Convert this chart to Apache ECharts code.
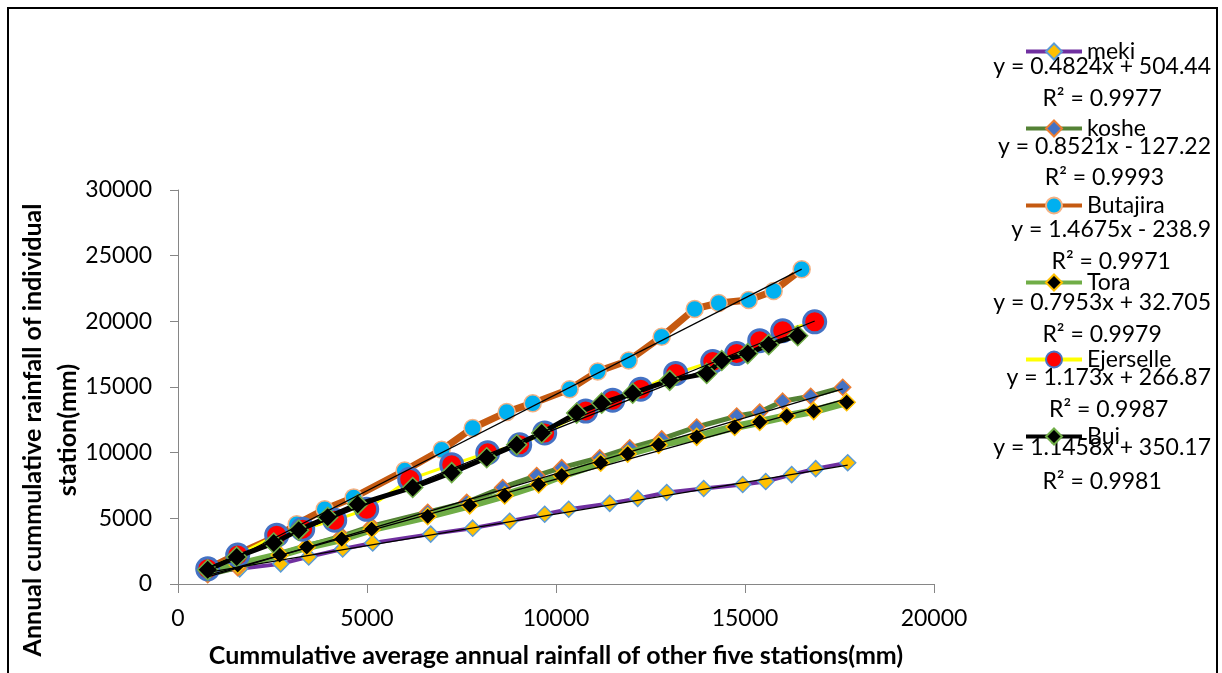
<!DOCTYPE html>
<html>
<head>
<meta charset="utf-8">
<script src="https://cdn.jsdelivr.net/npm/echarts@6/dist/echarts.min.js"></script>
<style>
  html, body { margin: 0; padding: 0; background: #fff; }
  #chart { width: 1222px; height: 673px; }
</style>
</head>
<body>
<div id="chart"></div>
<script>
// station names, in legend order
var stations = ['meki', 'koshe', 'Butajira', 'Tora', 'Ejerselle', 'Bui'];

// cumulative average of the other five stations (x) and of the station itself (y), mm
var mekiX = [786, 1632, 2717, 3458, 4357, 5151, 6685, 7796, 8775, 9701, 10336, 11421, 12161, 12929, 13907, 14939, 15548, 16235, 16870, 17717];
var mekiY = [900, 1156, 1533, 2062, 2666, 3119, 3799, 4252, 4781, 5310, 5687, 6140, 6518, 6971, 7273, 7575, 7802, 8331, 8784, 9237];

var kosheX = [786, 1579, 2690, 3405, 4331, 5124, 6606, 7638, 8590, 9489, 10151, 11156, 11950, 12796, 13722, 14780, 15389, 15997, 16738, 17585];
var kosheY = [700, 1250, 2288, 2893, 3650, 4405, 5460, 6216, 7349, 8255, 8860, 9615, 10370, 11050, 11956, 12787, 13089, 13920, 14297, 14977];

var butajiraX = [786, 1579, 2690, 3140, 3881, 4648, 5997, 6976, 7796, 8696, 9384, 10362, 11103, 11923, 12796, 13669, 14304, 15098, 15759, 16500];
var butajiraY = [1156, 2289, 3724, 4554, 5687, 6594, 8633, 10219, 11881, 13089, 13769, 14826, 16186, 17017, 18829, 20944, 21397, 21624, 22304, 23965];

var toraX = [786, 1579, 2690, 3405, 4331, 5124, 6606, 7717, 8643, 9542, 10151, 11183, 11897, 12717, 13722, 14727, 15389, 16103, 16817, 17690];
var toraY = [900, 1450, 2213, 2817, 3421, 4177, 5159, 5990, 6745, 7576, 8255, 9237, 9917, 10597, 11201, 11956, 12334, 12787, 13165, 13844];

var ejerselleX = [786, 1579, 2611, 3299, 4146, 4992, 6130, 7241, 8193, 9040, 9701, 10786, 11500, 12241, 13167, 14146, 14780, 15389, 15997, 16844];
var ejerselleY = [1156, 2205, 3716, 4177, 4856, 5687, 7976, 9086, 9992, 10597, 11503, 13164, 13995, 14826, 16035, 16941, 17545, 18527, 19282, 19962];

var buiX = [786, 1553, 2532, 3193, 3960, 4754, 6209, 7241, 8167, 8960, 9622, 10548, 11209, 12029, 13008, 13987, 14384, 15071, 15627, 16394];
var buiY = [1080, 2062, 3119, 4101, 5083, 6065, 7349, 8482, 9615, 10597, 11503, 13014, 13769, 14524, 15506, 16035, 17017, 17545, 18225, 18905];

// linear trendlines shown in the legend area
var slopes = [0.4824, 0.8521, 1.4675, 0.7953, 1.173, 1.1458];
var intercepts = [504.44, -127.22, -238.9, 32.705, 266.87, 350.17];
var rSquared = ['0.9977', '0.9993', '0.9971', '0.9979', '0.9987', '0.9981'];

var xs = [mekiX, kosheX, butajiraX, toraX, ejerselleX, buiX];
var ys = [mekiY, kosheY, butajiraY, toraY, ejerselleY, buiY];

// look of each station
var looks = [
    { line: '#7030A0', width: 4, symbol: 'diamond', size: 16, fill: '#FFC000', border: '#5B9BD5', bw: 1.5 },
    { line: '#548235', width: 5, symbol: 'diamond', size: 16, fill: '#4472C4', border: '#ED7D31', bw: 1.5 },
    { line: '#C55A11', width: 7, symbol: 'circle', size: 17, fill: '#00B0F0', border: '#F4B183', bw: 1.5 },
    { line: '#70AD47', width: 8, symbol: 'diamond', size: 17, fill: '#000000', border: '#FFC000', bw: 1.5 },
    { line: '#FFFF00', width: 3, symbol: 'circle', size: 22, fill: '#FF0000', border: '#4472C4', bw: 3 },
    { line: '#000000', width: 5, symbol: 'diamond', size: 20, fill: '#000000', border: '#70AD47', bw: 1.5 }
];

var font = 'Lato';
var chart = echarts.init(document.getElementById('chart'));

var series = [];
stations.forEach(function (name, i) {
    var pts = [];
    for (var k = 0; k < xs[i].length; k++) pts.push([xs[i][k], ys[i][k]]);
    var lk = looks[i];
    series.push({
        name: name,
        type: 'line',
        data: pts,
        symbol: lk.symbol,
        symbolSize: lk.size,
        showAllSymbol: true,
        lineStyle: { color: lk.line, width: lk.width },
        itemStyle: { color: lk.fill, borderColor: lk.border, borderWidth: lk.bw },
        z: 2 + i
    });
});

// trendlines, across the range of each station
stations.forEach(function (name, i) {
    var x0 = Math.min.apply(null, xs[i]);
    var x1 = Math.max.apply(null, xs[i]);
    series.push({
        name: name + ' trend',
        type: 'line',
        data: [[x0, slopes[i] * x0 + intercepts[i]], [x1, slopes[i] * x1 + intercepts[i]]],
        symbol: 'none',
        silent: true,
        lineStyle: { color: '#000', width: 1.3 },
        z: 20
    });
});

// equation labels
var measure = document.createElement('canvas').getContext('2d');
measure.font = '23px ' + font;
var eqY = [67, 147, 230, 303, 378, 448];
var r2Y = [99, 178, 262, 335, 410, 482];
var eqRight = 1211;
var labels = [];
stations.forEach(function (name, i) {
    var b = intercepts[i];
    var eq = 'y = ' + slopes[i] + 'x ' + (b < 0 ? '- ' : '+ ') + Math.abs(b);
    var w = measure.measureText(eq).width;
    labels.push({
        type: 'text', left: eqRight - w, top: eqY[i] - 12,
        style: { text: eq, font: '23px ' + font, fill: '#000' }
    });
    labels.push({
        type: 'text', x: eqRight - w / 2, y: r2Y[i],
        style: { text: 'R\u00B2 = ' + rSquared[i], font: '23px ' + font, fill: '#000', textAlign: 'center', textVerticalAlign: 'middle' }
    });
});

labels.push({
    type: 'text', x: 50, y: 430, rotation: Math.PI / 2,
    style: {
        text: 'Annual cummulative rainfall of individual\nstation(mm)',
        font: 'bold 25px ' + font, fill: '#000', textAlign: 'center', textVerticalAlign: 'middle', lineHeight: 35
    }
});

labels.push({
    type: 'rect', shape: { x: 8, y: 8, width: 1209, height: 700 },
    style: { fill: 'none', stroke: '#000', lineWidth: 2 }, silent: true
});

function plain(v) { return String(v); }

chart.setOption({
    animation: false,
    backgroundColor: '#fff',
    grid: { left: 178, right: 288, top: 190, bottom: 86, containLabel: false },
    legend: {
        data: stations,
        orient: 'vertical',
        left: 1019,
        top: 35,
        itemWidth: 56,
        itemHeight: 20,
        itemGap: 54,
        lineStyle: { width: 4 },
        textStyle: { fontFamily: font, fontSize: 23, color: '#000' }
    },
    xAxis: {
        type: 'value',
        min: 0, max: 20000, interval: 5000,
        name: 'Cummulative average annual rainfall of other five stations(mm)',
        nameLocation: 'middle',
        nameGap: 59,
        nameTextStyle: { fontFamily: font, fontSize: 25, fontWeight: 'bold', color: '#000', verticalAlign: 'top' },
        axisLine: { lineStyle: { color: '#868686', width: 1 } },
        axisTick: { show: true, length: 9, lineStyle: { color: '#868686' } },
        axisLabel: { fontFamily: font, fontSize: 23, color: '#000', margin: 23, formatter: plain },
        splitLine: { show: false }
    },
    yAxis: {
        type: 'value',
        min: 0, max: 30000, interval: 5000,
        axisLine: { show: true, lineStyle: { color: '#868686', width: 1 } },
        axisTick: { show: true, length: 8, lineStyle: { color: '#868686' } },
        axisLabel: { fontFamily: font, fontSize: 23, color: '#000', margin: 26, formatter: plain },
        splitLine: { show: false }
    },
    graphic: labels,
    series: series
});
</script>
</body>
</html>
